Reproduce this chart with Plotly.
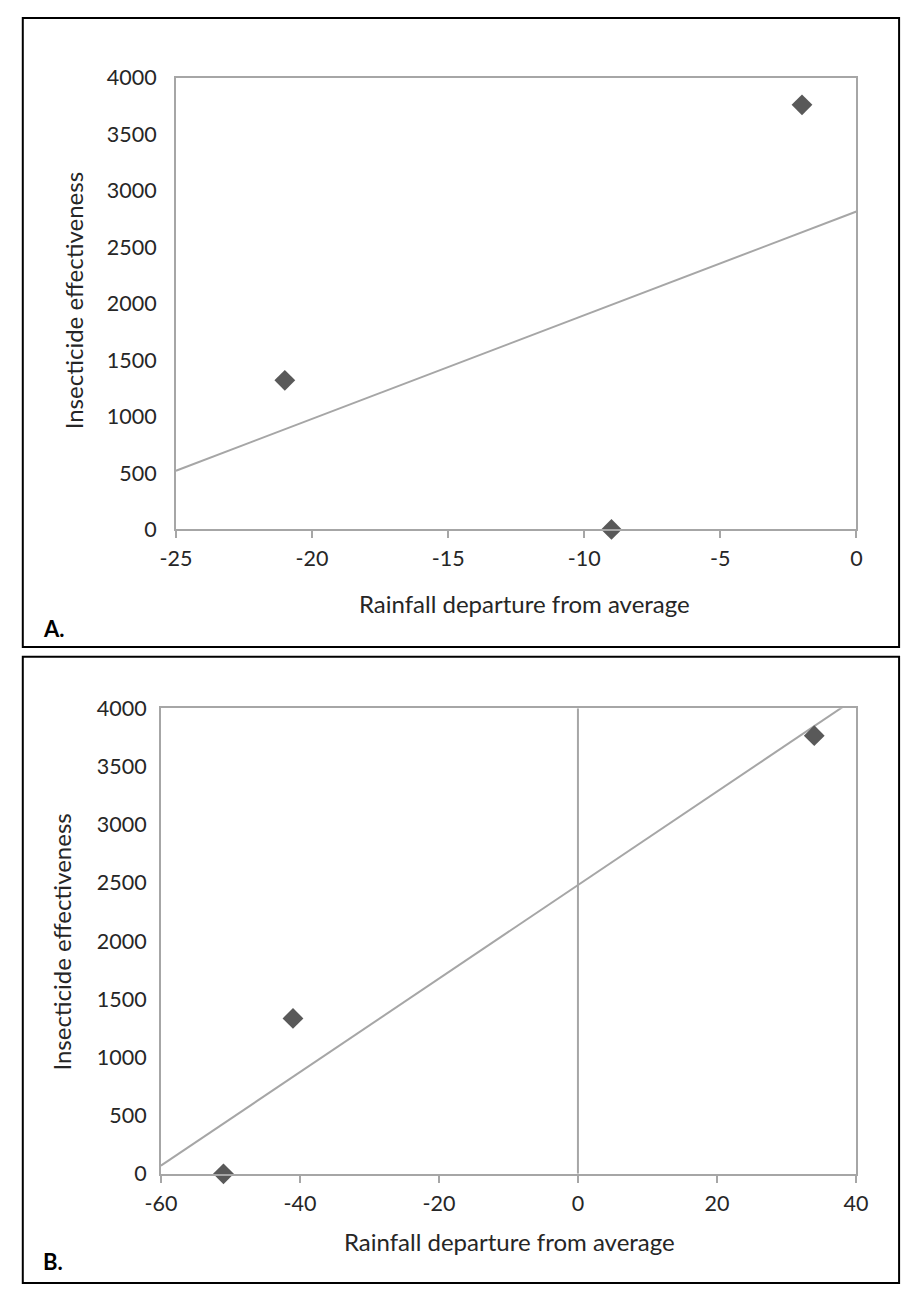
import plotly.graph_objects as go

W, H = 914, 1299

# ---- Data: panel A ----
a_x = [-21, -9, -2]
a_y = [1320, 0, 3760]
a_trend_x = [-25, 0]
a_trend_y = [520, 2815]
a_xticks = [-25, -20, -15, -10, -5, 0]
a_xticktext = ["-25", "-20", "-15", "-10", "-5", "0"]
a_yticks = [0, 500, 1000, 1500, 2000, 2500, 3000, 3500, 4000]
a_yticktext = ["0", "500", "1000", "1500", "2000", "2500", "3000", "3500", "4000"]

# ---- Data: panel B ----
b_x = [-51, -41, 34]
b_y = [0, 1335, 3765]
b_trend_x = [-60, 40]
b_trend_y = [70, 4088]
b_xticks = [-60, -40, -20, 0, 20, 40]
b_xticktext = ["-60", "-40", "-20", "0", "20", "40"]
b_yticks = [0, 500, 1000, 1500, 2000, 2500, 3000, 3500, 4000]
b_yticktext = ["0", "500", "1000", "1500", "2000", "2500", "3000", "3500", "4000"]

x_title = "Rainfall departure from average"
y_title = "Insecticide effectiveness"
panel_labels = ["A.", "B."]

FONT = "Lato"
TICK_FS = 21.5
TITLE_FS = 24
TXT = "#262626"
AX = "#A6A6A6"
MK = "#595959"


def px(x):
    return x / W


def py(y):
    return 1 - y / H


fig = go.Figure()

# Panel A
fig.add_trace(go.Scatter(x=a_trend_x, y=a_trend_y, mode="lines",
                         line=dict(color=AX, width=2), xaxis="x", yaxis="y",
                         showlegend=False, hoverinfo="skip"))
fig.add_trace(go.Scatter(x=a_x, y=a_y, mode="markers",
                         marker=dict(symbol="diamond", size=16, color=MK, line=dict(width=0)),
                         xaxis="x", yaxis="y", cliponaxis=False, showlegend=False))
# Panel B
fig.add_trace(go.Scatter(x=b_trend_x, y=b_trend_y, mode="lines",
                         line=dict(color=AX, width=2), xaxis="x2", yaxis="y2",
                         showlegend=False, hoverinfo="skip"))
fig.add_trace(go.Scatter(x=b_x, y=b_y, mode="markers",
                         marker=dict(symbol="diamond", size=16, color=MK, line=dict(width=0)),
                         xaxis="x2", yaxis="y2", cliponaxis=False, showlegend=False))

tickfont = dict(family=FONT, size=TICK_FS, color=TXT)
titlefont = dict(family=FONT, size=TITLE_FS, color=TXT)

common_x = dict(showgrid=False, zeroline=False, showline=True, linecolor=AX, linewidth=2,
                mirror=True, ticks="outside", ticklen=7, tickwidth=2, tickcolor=AX,
                tickfont=tickfont, ticklabelstandoff=2, fixedrange=True)
common_y = dict(showgrid=False, zeroline=False, showline=True, linecolor=AX, linewidth=2,
                mirror=True, ticks="", tickfont=tickfont, fixedrange=True)

fig.update_layout(
    width=W, height=H,
    margin=dict(l=0, r=0, t=0, b=0),
    paper_bgcolor="white", plot_bgcolor="white",
    showlegend=False,
    xaxis=dict(common_x, domain=[px(165), px(867)], range=[-25, 0],
               tickvals=a_xticks, ticktext=a_xticktext, anchor="y"),
    yaxis=dict(common_y, domain=[py(527), py(66)], range=[0, 4000],
               tickvals=a_yticks, ticktext=a_yticktext, anchor="x", ticklabelstandoff=13),
    xaxis2=dict(common_x, domain=[px(149.5), px(866.5)], range=[-60, 40],
                tickvals=b_xticks, ticktext=b_xticktext, anchor="y2"),
    yaxis2=dict(common_y, domain=[py(1184.5), py(709.5)], range=[0, 4000],
                tickvals=b_yticks, ticktext=b_yticktext, anchor="x2", ticklabelstandoff=8),
)

shapes = [
    # panel frames
    dict(type="rect", xref="paper", yref="paper", x0=px(7), x1=px(911), y0=py(647), y1=py(5),
         line=dict(color="black", width=2)),
    dict(type="rect", xref="paper", yref="paper", x0=px(7), x1=px(911), y0=py(1296), y1=py(657),
         line=dict(color="black", width=2)),
    # vertical axis line at x=0 in panel B
    dict(type="line", xref="x2", yref="y2", x0=0, x1=0, y0=0, y1=4000,
         line=dict(color=AX, width=2)),
]
fig.update_layout(shapes=shapes)

ann = [
    dict(text=x_title, x=px(525), y=py(603), xref="paper", yref="paper", showarrow=False,
         font=titlefont, xanchor="center", yanchor="middle"),
    dict(text=y_title, x=px(59), y=py(294), xref="paper", yref="paper", showarrow=False,
         font=titlefont, xanchor="center", yanchor="middle", textangle=-90),
    dict(text=x_title, x=px(509), y=py(1254), xref="paper", yref="paper", showarrow=False,
         font=titlefont, xanchor="center", yanchor="middle"),
    dict(text=y_title, x=px(46), y=py(948), xref="paper", yref="paper", showarrow=False,
         font=titlefont, xanchor="center", yanchor="middle", textangle=-90),
    dict(text="<b>%s</b>" % panel_labels[0], x=px(26), y=py(628), xref="paper", yref="paper",
         showarrow=False, font=dict(family=FONT, size=22, color="black"),
         xanchor="left", yanchor="middle"),
    dict(text="<b>%s</b>" % panel_labels[1], x=px(26), y=py(1274), xref="paper", yref="paper",
         showarrow=False, font=dict(family=FONT, size=22, color="black"),
         xanchor="left", yanchor="middle"),
]
fig.update_layout(annotations=ann)

fig.write_html(
    "out.html",
    config={"displayModeBar": False},
    post_script="document.body.style.margin='0';document.documentElement.style.overflow='hidden';document.body.style.overflow='hidden';",
)
